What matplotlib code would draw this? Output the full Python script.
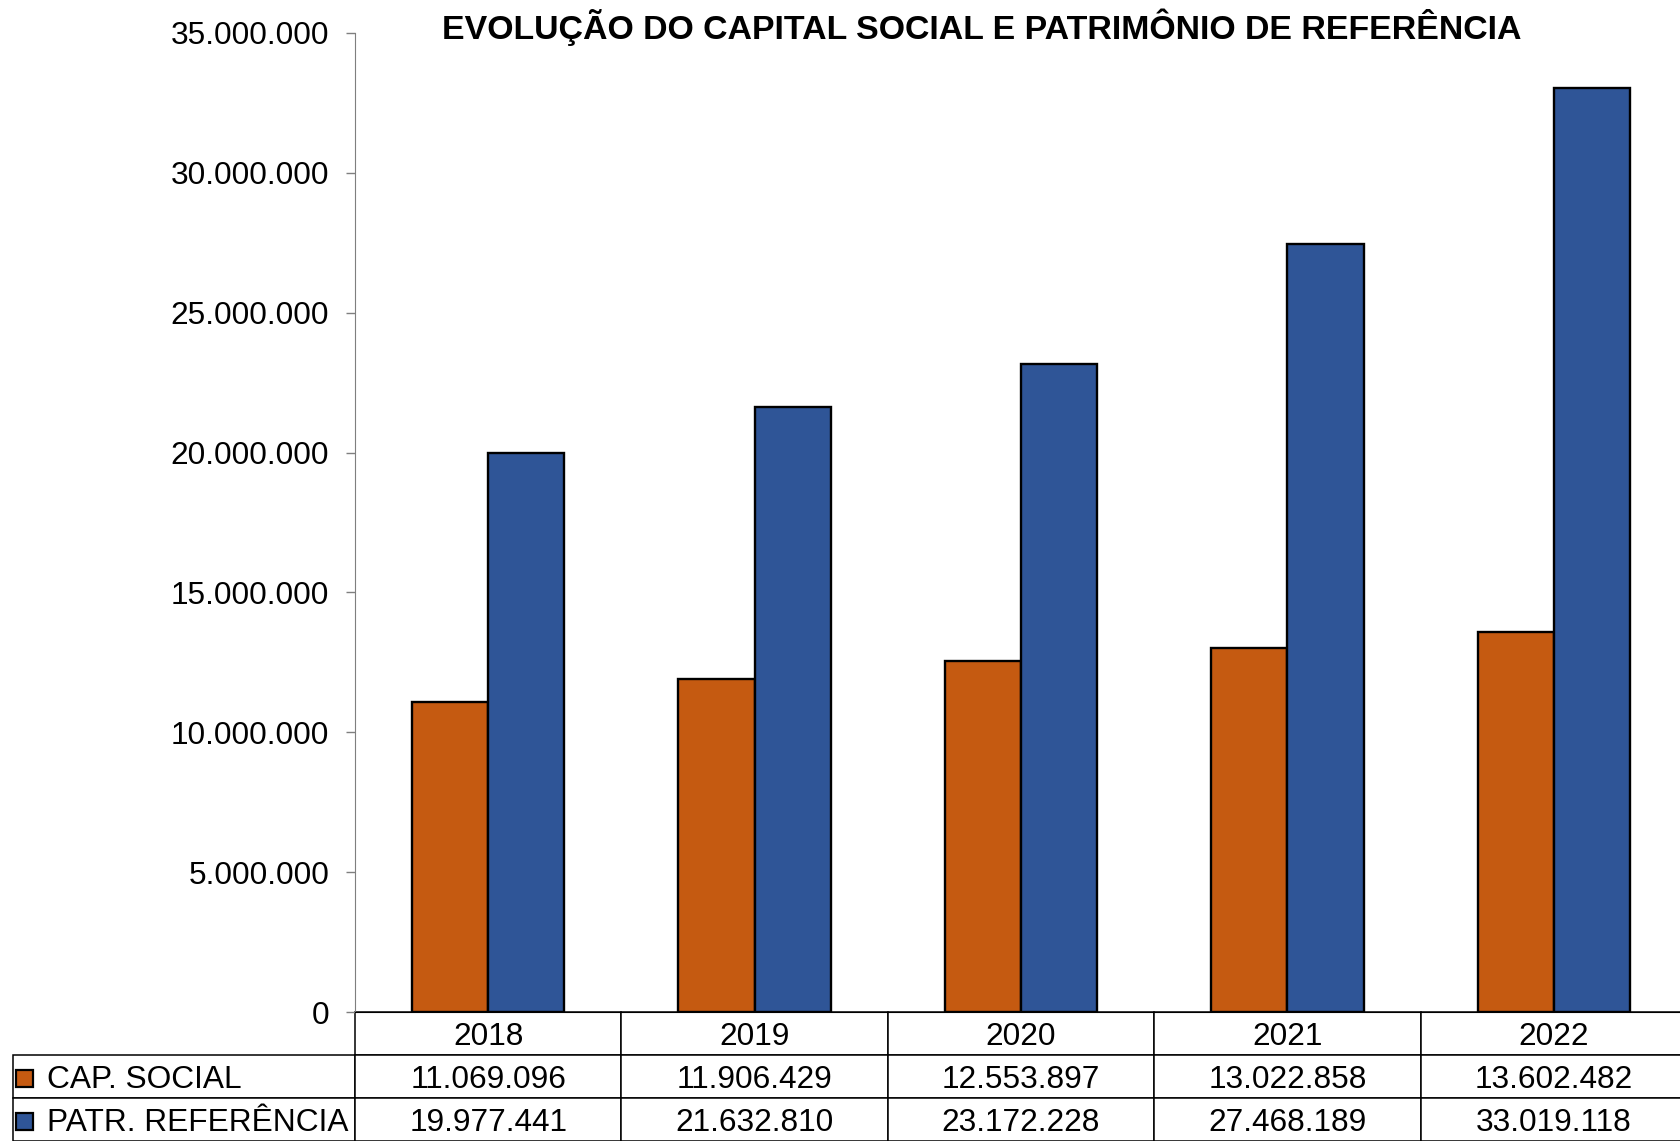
import matplotlib
matplotlib.use("Agg")
import matplotlib.pyplot as plt
from matplotlib.patches import Rectangle

plt.rcParams['font.family'] = ['Liberation Sans', 'DejaVu Sans']

anos = ['2018', '2019', '2020', '2021', '2022']
cap_social = [11069096, 11906429, 12553897, 13022858, 13602482]
patr_ref = [19977441, 21632810, 23172228, 27468189, 33019118]
series_nomes = ['CAP. SOCIAL', 'PATR. REFERÊNCIA']
cores = ['#C55A11', '#2F5597']
titulo = 'EVOLUÇÃO DO CAPITAL SOCIAL E PATRIMÔNIO DE REFERÊNCIA'


def fmt(v):
    return f"{int(v):,}".replace(',', '.')


W, H = 1681, 1141
fig = plt.figure(figsize=(W / 100, H / 100), dpi=100)
# axes area in pixels: left 355, top 33, bottom 1012 (runs a little past the right edge)
ax_w = 1332
ax = fig.add_axes([355 / W, 1 - 1012 / H, ax_w / W, (1012 - 33) / H])

x = list(range(len(anos)))
bw = 0.286
ax.bar([i - bw / 2 for i in x], cap_social, bw, color=cores[0],
       edgecolor='black', linewidth=1.7, zorder=3)
ax.bar([i + bw / 2 for i in x], patr_ref, bw, color=cores[1],
       edgecolor='black', linewidth=1.7, zorder=3)

ax.set_xlim(-0.5, len(anos) - 0.5)
ax.set_ylim(0, 35000000)
ax.set_yticks(range(0, 35000001, 5000000))
ax.set_yticklabels([fmt(v) for v in range(0, 35000001, 5000000)])
ax.set_xticks([])
ax.tick_params(axis='y', direction='out', length=6.5, width=1, color='#7f7f7f',
               labelsize=22.8, labelcolor='black', pad=12)
ax.spines['top'].set_visible(False)
ax.spines['right'].set_visible(False)
ax.spines['left'].set_color('#7f7f7f')
ax.spines['bottom'].set_color('black')

# data table under the chart
linhas = [[series_nomes[0]] + [fmt(v) for v in cap_social],
          [series_nomes[1]] + [fmt(v) for v in patr_ref]]
lab_w = 342 / ax_w
tab_h = (1141 - 1012) / (1012 - 33)
tabela = ax.table(cellText=linhas, colLabels=[''] + anos, cellLoc='center',
                  colWidths=[lab_w] + [1 / len(anos)] * len(anos),
                  bbox=[-lab_w, -tab_h, 1 + lab_w, tab_h])
tabela.auto_set_font_size(False)
tabela.set_fontsize(22.8)
for (r, c), cell in tabela.get_celld().items():
    cell.set_linewidth(1.1)
    cell.set_edgecolor('black')
    cell.get_text().set_verticalalignment('center_baseline')
    if r == 0 and c == 0:
        cell.visible_edges = 'open'
    if c == 0 and r > 0:
        cell.get_text().set_horizontalalignment('left')

# legend keys inside the label cells
for k, yc in enumerate([1078, 1121]):
    s = 17
    fig.add_artist(Rectangle((16 / W, 1 - (yc + s / 2) / H), s / W, s / H,
                             transform=fig.transFigure, facecolor=cores[k],
                             edgecolor='black', linewidth=1.6))

fig.text(982 / W, 1 - 38.5 / H, titulo, ha='center', va='baseline',
         fontsize=24.4, fontweight='bold')

plt.savefig('out.png', dpi=100)
